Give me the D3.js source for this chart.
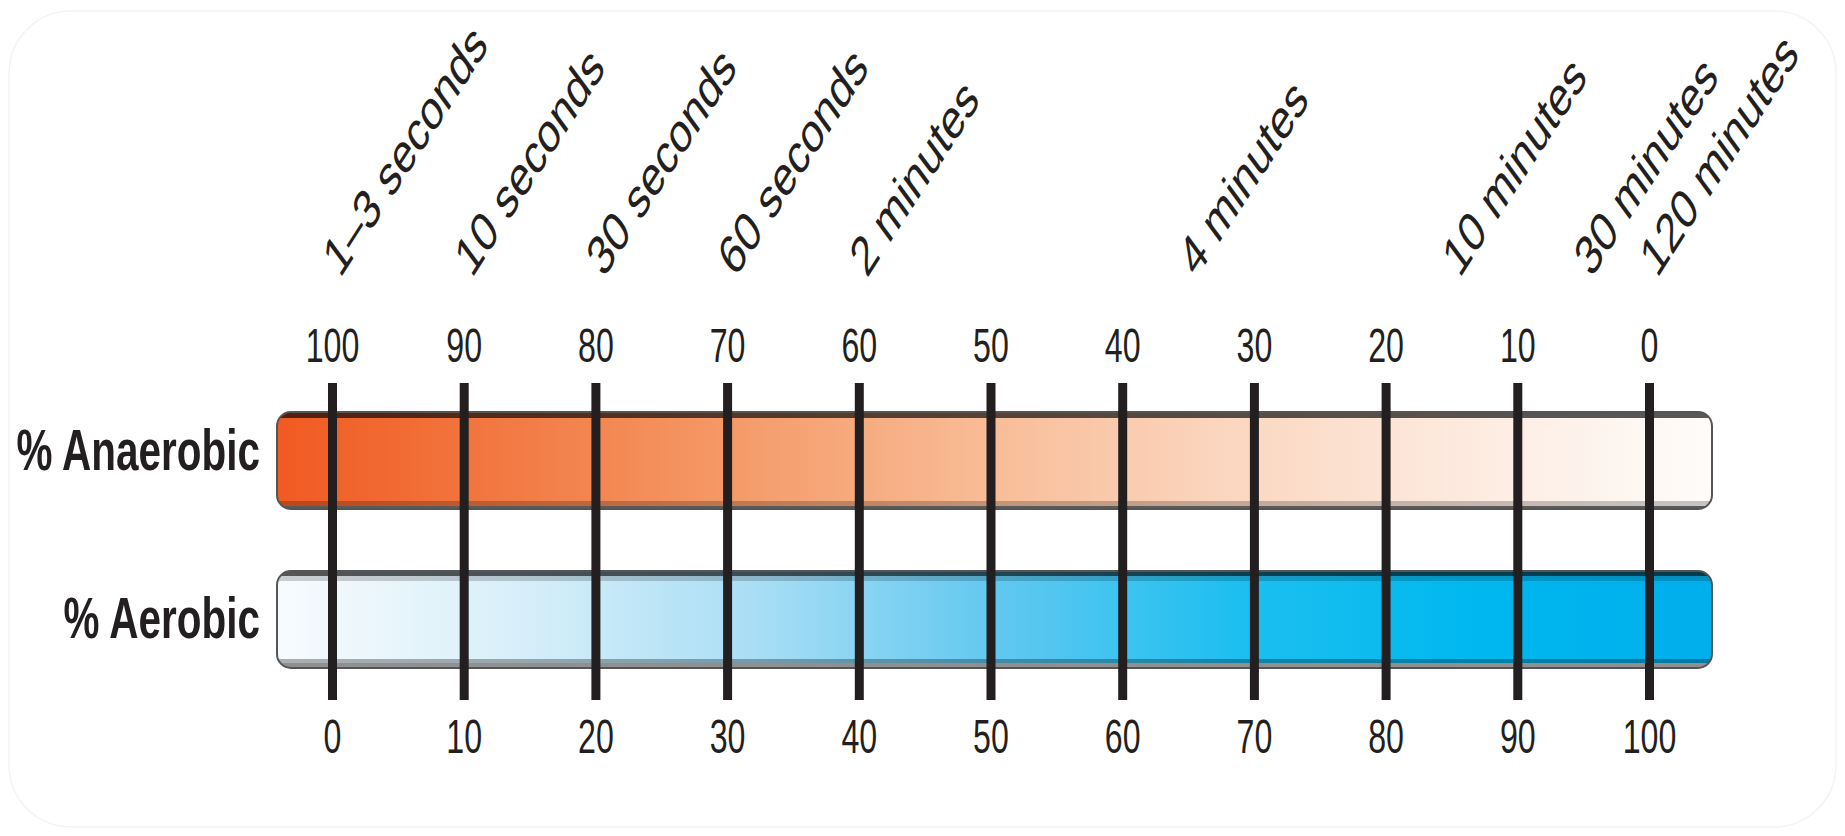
<!DOCTYPE html>
<html lang="en">
<head>
    <meta charset="UTF-8">
    <title>Anaerobic vs Aerobic energy contribution</title>
    <script src="https://d3js.org/d3.v7.min.js"></script>
    <style>
        body { margin: 0; background: #fff; }
        svg text { font-family: "Liberation Sans", Arial, Helvetica, sans-serif; fill: #231f20; }
    </style>
</head>
<body>
<script>
    // data
    var energySystems = ["% Anaerobic", "% Aerobic"];
    var anaerobicTicks = [100, 90, 80, 70, 60, 50, 40, 30, 20, 10, 0];
    var aerobicTicks = [0, 10, 20, 30, 40, 50, 60, 70, 80, 90, 100];
    var durations = ["1\u20133 seconds", "10 seconds", "30 seconds", "60 seconds", "2 minutes",
                     "4 minutes", "10 minutes", "30 minutes", "120 minutes"];
    var durationAnaerobic = [100, 90, 80, 70, 60, 35, 15, 5, 0];
    var anaerobicStops = ["#f05a22", "#f27b44", "#f59d6c", "#f8bd98", "#fbd7c1", "#fdebe0", "#fefcfa"];
    var aerobicStops = ["#f7fbfe", "#d8eff9", "#a9def5", "#62c8f0", "#1ebff0", "#00b8ef", "#00aeeb"];

    var w = 1845;
    var h = 836;
    var squeeze = 0.69;   // the artwork is narrow: all text is condensed

    var svg = d3.select("body")
                .append("svg")
                .attr("width", w)
                .attr("height", h);

    // faint rounded frame
    svg.append("rect")
       .attr("x", 9).attr("y", 11)
       .attr("width", w - 18).attr("height", h - 20)
       .attr("rx", 62)
       .attr("fill", "#fff")
       .attr("stroke", "#f3f3f3")
       .attr("stroke-width", 1.5);

    var xAna = d3.scaleLinear().domain([100, 0]).range([332, 1649]);
    var xAer = d3.scaleLinear().domain([0, 100]).range([332, 1649]);

    var yScale = d3.scaleBand()
                   .domain(energySystems)
                   .range([412, 668])
                   .paddingInner(0.39);

    var defs = svg.append("defs");
    [["gradAna", anaerobicStops], ["gradAer", aerobicStops]].forEach(function(g) {
        var grad = defs.append("linearGradient").attr("id", g[0]);
        grad.selectAll("stop")
            .data(g[1])
            .enter()
            .append("stop")
            .attr("offset", function(d, i) { return i / (g[1].length - 1); })
            .attr("stop-color", function(d) { return d; });
    });

    var barX0 = xAna(100) - 55;
    var barX1 = xAna(0) + 63;
    var bw = yScale.bandwidth();

    energySystems.forEach(function(name, i) {
        var y0 = yScale(name);
        var clipId = "clip" + i;
        defs.append("clipPath").attr("id", clipId)
            .append("rect")
            .attr("x", barX0).attr("y", y0)
            .attr("width", barX1 - barX0).attr("height", bw)
            .attr("rx", 14);

        var g = svg.append("g");
        var inner = g.append("g").attr("clip-path", "url(#" + clipId + ")");

        inner.append("rect")
             .attr("x", barX0).attr("y", y0)
             .attr("width", barX1 - barX0).attr("height", bw)
             .attr("fill", i === 0 ? "url(#gradAna)" : "url(#gradAer)");

        // top edge
        inner.append("rect")
             .attr("x", barX0).attr("y", y0)
             .attr("width", barX1 - barX0).attr("height", i === 0 ? 6 : 5)
             .attr("fill", "#000").attr("opacity", i === 0 ? 0.65 : 0.66);
        if (i === 1) {
            inner.append("rect")
                 .attr("x", barX0).attr("y", y0 + 5)
                 .attr("width", barX1 - barX0).attr("height", 5)
                 .attr("fill", "#000").attr("opacity", 0.18);
        }
        // bottom edge
        inner.append("rect")
             .attr("x", barX0).attr("y", y0 + bw - (i === 0 ? 8 : 9))
             .attr("width", barX1 - barX0).attr("height", 5)
             .attr("fill", "#000").attr("opacity", i === 0 ? 0.22 : 0.3);
        inner.append("rect")
             .attr("x", barX0).attr("y", y0 + bw - (i === 0 ? 3 : 5))
             .attr("width", barX1 - barX0).attr("height", i === 0 ? 3 : 5)
             .attr("fill", i === 0 ? "#5a5a5a" : "#8f8f8f");

        g.append("rect")
         .attr("x", barX0).attr("y", y0)
         .attr("width", barX1 - barX0).attr("height", bw)
         .attr("rx", 14)
         .attr("fill", "none")
         .attr("stroke", "#555")
         .attr("stroke-width", 2);

        // row label
        svg.append("g")
           .attr("transform", "translate(260," + (y0 + bw / 2 + (i === 0 ? 10 : 18)) + ") scale(0.71,1)")
           .append("text")
           .attr("text-anchor", "end")
           .attr("font-size", 57)
           .attr("font-weight", "bold")
           .text(name);
    });

    // thick tick lines + anaerobic numbers on top
    var topAxis = d3.axisTop(xAna)
                    .tickValues(anaerobicTicks)
                    .tickSizeInner(-317)
                    .tickSizeOuter(0)
                    .tickPadding(21)
                    .tickFormat(d3.format("d"));

    var topG = svg.append("g")
                  .attr("transform", "translate(0,383)")
                  .call(topAxis);
    topG.select(".domain").remove();
    topG.selectAll(".tick line")
        .attr("stroke", "#231f20")
        .attr("stroke-width", 9);
    topG.selectAll(".tick text")
        .attr("font-size", 48)
        .attr("font-family", null)
        .attr("fill", "#2b2b2b")
        .attr("transform", "scale(0.67,1)");

    var bottomAxis = d3.axisBottom(xAer)
                       .tickValues(aerobicTicks)
                       .tickSize(0)
                       .tickPadding(19)
                       .tickFormat(d3.format("d"));

    var botG = svg.append("g")
                  .attr("transform", "translate(0,700)")
                  .call(bottomAxis);
    botG.select(".domain").remove();
    botG.selectAll(".tick text")
        .attr("font-size", 48)
        .attr("fill", "#2b2b2b")
        .attr("transform", "scale(0.67,1)");

    // duration labels (rotated, then squeezed like the rest of the artwork)
    svg.selectAll(".dur")
       .data(durations)
       .enter()
       .append("text")
       .attr("class", "dur")
       .attr("transform", function(d, i) {
           return "translate(" + (xAna(durationAnaerobic[i]) + 8) + ",279) scale(" + squeeze + ",1) rotate(-47)";
       })
       .attr("font-size", 56)
       .attr("fill", "#2b2b2b")
       .text(function(d) { return d; });
</script>
</body>
</html>
